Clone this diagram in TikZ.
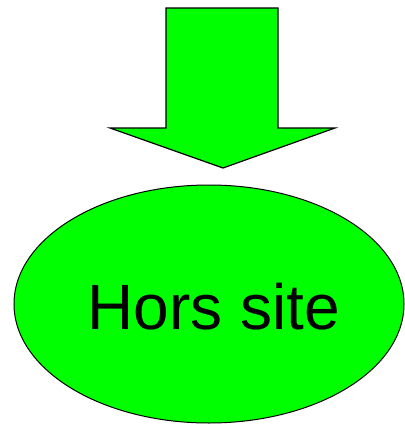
\documentclass[tikz,border=0pt]{standalone}
\usepackage{fontspec}
\setmainfont{Liberation Sans}
\usetikzlibrary{shapes.geometric}
\definecolor{brightgreen}{RGB}{0,255,0}
\tikzset{
  greenshape/.style={fill=brightgreen, draw=black, line width=1.2pt, line join=miter},
}
\begin{document}
\begin{tikzpicture}[x=1pt,y=-1pt]
\useasboundingbox (0,0) rectangle (405,424);
\draw[greenshape] (166,8) -- (278,8) -- (278,128) -- (335,128) -- (223,168) -- (110,128) -- (166,128) -- cycle;
\node[greenshape, line width=1pt, ellipse, minimum width=390pt, minimum height=238pt, inner sep=0pt] (e) at (209,304) {};
\node[font=\fontsize{64}{70}\selectfont, anchor=base, inner sep=0pt] (t) at (214,329) {Hors site};
\end{tikzpicture}
\end{document}
